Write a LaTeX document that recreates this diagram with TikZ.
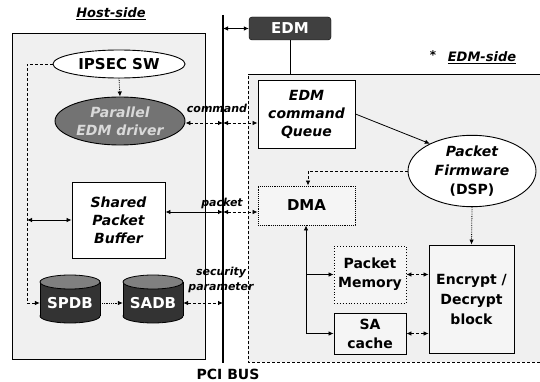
\documentclass[tikz,border=0pt]{standalone}
\usepackage{fontspec}
\setmainfont{DejaVu Sans}
\usetikzlibrary{arrows.meta,shapes.geometric}

\begin{document}
\begin{tikzpicture}[x=1pt,y=-1pt,
  >={Latex[length=5pt,width=4.5pt]},
  every node/.style={inner sep=0pt},
  bi/.style={font=\bfseries\itshape\fontsize{14}{18}\selectfont, align=center},
  bo/.style={font=\bfseries\fontsize{14}{19}\selectfont, align=center},
  tag/.style={font=\bfseries\itshape\fontsize{11}{15}\selectfont, align=center},
  title/.style={font=\bfseries\itshape\fontsize{13}{15}\selectfont},
  box/.style={draw, line width=0.9pt, fill=white},
  link/.style={line width=0.8pt},
  drum/.pic={
    \filldraw[fill=black!80, draw=black, line width=0.8pt] (0,17) ellipse[x radius=30, y radius=7];
    \fill[black!80] (-30,-17) rectangle (30,17);
    \draw[line width=0.8pt] (-30,-17) -- (-30,17) (30,-17) -- (30,17);
    \filldraw[fill=black!50, draw=black, line width=0.8pt] (0,-17) ellipse[x radius=30, y radius=7];
  }
]
\useasboundingbox (0,0) rectangle (540,382);

% host panel
\filldraw[fill=black!6, draw=black, line width=0.9pt] (12,33) rectangle (205,359);
\node[title] (hosttitle) at (111,14) {\underline{Host-side}};

% EDM panel
\fill[black!6] (248,75) rectangle (540,362);
\draw[line width=1pt] (248,75) -- (540,75);
\draw[densely dashed, line width=0.8pt] (540,362) -- (248,362) -- (248,75);
\coordinate (paneltop) at (248,75);
\node[font=\bfseries\fontsize{12}{14}\selectfont] (star) at (433,55) {*};
\node[title] (edmtitle) at (482,58) {\underline{EDM-side}};

% PCI bus
\coordinate (pcitop) at (223,15);
\coordinate (pcibot) at (223,363);
\draw[line width=1.1pt] (pcitop) -- (pcibot);
\node[font=\bfseries\fontsize{14}{16}\selectfont] (pcilabel) at (228,374) {PCI BUS};

% EDM device
\node[draw, fill=black!75, rounded corners=3pt, minimum width=82pt, minimum height=23pt,
      text=white, font=\bfseries\fontsize{15}{17}\selectfont] (edm) at (290,28.5) {EDM};
\draw[link,<->] (edm.west -| pcitop) -- (edm.west);
\draw[line width=1pt] (edm.south) -- (edm.south |- paneltop);

% host side
\node[ellipse, box, minimum width=132pt, minimum height=28pt,
      font=\bfseries\fontsize{15}{17}\selectfont] (ipsec) at (119,64) {IPSEC SW};
\node[ellipse, draw, line width=0.9pt, fill=black!55, minimum width=130pt, minimum height=48pt,
      bi, text=black!15] (drv) at (120,121) {Parallel\\EDM driver};
\node[box, minimum width=93pt, minimum height=76pt, bi] (spb) at (118.5,220) {Shared\\Packet\\Buffer};

\pic at (70,299) {drum};
\pic at (153,299) {drum};
\node[minimum width=60pt, minimum height=40pt, text=white,
      font=\bfseries\fontsize{15}{17}\selectfont] (spdb) at (70,303) {SPDB};
\node[minimum width=60pt, minimum height=40pt, text=white,
      font=\bfseries\fontsize{15}{17}\selectfont] (sadb) at (153,303) {SADB};

\coordinate (lft) at (27,0);
\draw[link, densely dashed, ->] (ipsec.west) -- (ipsec.west -| lft) |- (spdb.west);
\draw[link, <->] (lft |- spb.west) -- (spb.west);
\draw[link, densely dotted, ->] (ipsec.south) -- (drv.north);
\draw[link, densely dotted, ->] (spdb.east) -- (sadb.west);

% EDM side
\node[box, minimum width=97pt, minimum height=68pt, bi] (queue) at (306.5,114) {EDM\\command\\Queue};
\node[draw, densely dotted, line width=0.9pt, fill=black!4, minimum width=97pt, minimum height=39pt,
      font=\bfseries\fontsize{15}{17}\selectfont] (dma) at (306.5,205.5) {DMA};
\node[ellipse, box, minimum width=128pt, minimum height=67pt,
      font=\fontsize{14}{19}\selectfont, align=center] (fw) at (472,171)
      {\bfseries\itshape Packet\\\bfseries\itshape Firmware\\\bfseries (DSP)};
\node[draw, dotted, line width=0.9pt, fill=black!4, minimum width=72pt, minimum height=57pt, bo] (pm) at (370,274.5) {Packet\\Memory};
\node[draw, line width=0.9pt, fill=black!4, minimum width=72pt, minimum height=41pt, bo] (sa) at (370,333.5) {SA\\cache};
\node[draw, line width=0.9pt, fill=black!4, minimum width=85pt, minimum height=108pt, bo,
      font=\bfseries\fontsize{14}{20}\selectfont] (enc) at (471.5,299) {Encrypt /\\Decrypt\\block};

\draw[link, ->] (queue.east) -- (fw.147);
\coordinate (dtap) at (308,0);
\draw[link, densely dashed, ->] (fw.west) -- (fw.west -| dtap) -- (dtap |- dma.north);
\draw[link, densely dotted, ->] (fw.south) -- (enc.north);

\coordinate (dv) at (306,0);
\draw[link, ->] (dv |- sa.west) -- (dv |- dma.south);
\draw[link, ->] (dv |- pm.west) -- (pm.west);
\draw[link, ->] (dv |- sa.west) -- (sa.west);
\draw[link, densely dashed, <->] (pm.east) -- (pm.east -| enc.west);
\draw[link, densely dashed, <->] (sa.east) -- (sa.east -| enc.west);

% bus transfers
\coordinate (cmd) at (0,123);
\coordinate (pk) at (0,212);
\draw[link, densely dashed, <->] (drv.east |- cmd) -- (pcitop |- cmd);
\draw[link, densely dashed, <->] (pcitop |- cmd) -- (queue.west |- cmd);
\draw[link, <->] (spb.east |- pk) -- (pcitop |- pk);
\draw[link, densely dashed, <->] (pcitop |- pk) -- (dma.west |- pk);
\draw[link, densely dashed, <->] (sadb.east) -- (sadb.east -| pcitop);

\node[tag] (cmdlabel) at (217,108) {command};
\node[tag] (pklabel) at (222,203) {packet};
\node[tag] (seclabel) at (221,280) {security\\parameter};
\end{tikzpicture}
\end{document}
